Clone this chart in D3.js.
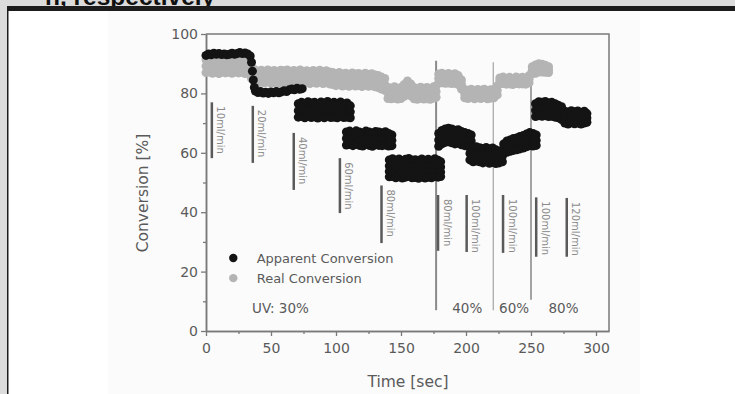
<!DOCTYPE html>
<html>
<head>
<meta charset="utf-8">
<script src="https://cdn.jsdelivr.net/npm/d3@7"></script>
<style>
  body { margin: 0; background: #dcdcdc; }
  svg { display: block; }
</style>
</head>
<body>
<div id="chart"></div>
<script>
// apparent conversion (black): [time sec, readings in % at that time...]
const apparent = [
  [0,92.8],[2,93.3],[4,93.0],[6,93.5],[8,93.2],[10,93.4],[12,93.1],[14,93.3],[16,93.0],[18,93.2],
  [20,93.5],[22,93.2],[24,93.4],[26,93.8],[28,93.4],[30,93.6],[32,93.3],[34,92.6],
  [35,90.5],[35.7,87.5],[36.4,84.5],[37.2,82],
  [38,80.8],[40,80.3],[42,80.6],[44,80.1],[46,80.4],[48,80.0],[50,80.5],[52,80.2],[54,80.6],[56,80.2],
  [58,80.5],[60,80.9],[62,80.6],[64,81.2],[66,81.5],[68,81.2],[70,81.7],[72,81.4],[74,81.6],
  [71,76.5,74.2,72],[73.5,77,74.5,72.3],[76,76.6,74.3,71.8],[78.5,77.2,74.7,72.2],[81,76.8,74.4,71.9],
  [83.5,77,74.6,72.1],[86,76.4,74.1,71.7],[88.5,77.1,74.6,72.2],[91,76.7,74.3,71.8],[93.5,77.3,74.8,72.3],
  [96,76.6,74.2,71.9],[98.5,77,74.5,72],[101,76.5,74.1,71.8],[103.5,77.1,74.6,72.2],[106,76.4,74.2,71.9],
  [108.5,76.8,74.3,72],[111,75.8,73.8,71.8],
  [108,67,64.8,62.6],[110.5,67.3,65,62.8],[113,66.8,64.6,62.4],[115.5,67.4,65.1,62.9],[118,67,64.7,62.5],
  [120.5,66.7,64.5,62.3],[123,67.3,65,62.8],[125.5,67,64.8,62.5],[128,66.6,64.4,62.2],[130.5,67.2,64.9,62.7],
  [133,67,64.8,62.5],[135.5,66.7,64.5,62.4],[138,67.1,64.9,62.6],[140.5,66.5,64.4,62.3],[143,66,64.2,62.4],
  [141,57.6,55.6,53.7,51.9],[143.5,58,56,54,52],[146,57.5,55.5,53.6,51.6],[148.5,57.9,55.9,53.9,51.9],
  [151,57.4,55.4,53.5,51.5],[153.5,57.8,55.8,53.8,51.8],[156,58.1,56.1,54.1,52.1],[158.5,57.5,55.5,53.6,51.6],
  [161,57.7,55.7,53.7,51.7],[163.5,57.3,55.3,53.4,51.4],[166,57.9,55.9,53.9,51.9],[168.5,57.5,55.5,53.5,51.5],
  [171,57.8,55.8,53.8,51.8],[173.5,57.4,55.4,53.5,51.6],[176,58,56,54,52],[178.5,57.5,55.6,53.7,51.8],
  [180.5,57,55.2,53.5,52],
  [179,66.5,64.3,62.2],[181.5,67.5,65.2,63],[184,68,65.8,63.5],[186.5,68.3,66,63.7],[189,68,65.7,63.4],
  [191.5,67.6,65.3,63],[194,67.8,65.5,63.2],[196.5,67.2,65,62.7],[199,66.8,64.6,62.4],[201.5,66.5,64.3,62.2],
  [204,66,64,62],
  [203,62,59.8,57.6],[205.5,61.5,59.3,57],[208,62,59.6,57.2],[210.5,61.7,59.3,57],[213,61.4,59,56.6],
  [215.5,61.8,59.4,57],[218,61.3,58.9,56.5],[220.5,61.6,59.2,56.8],[223,61,58.7,56.4],[225.5,60.6,58.5,56.6],
  [228,60.8,58.8,57],
  [229,63,61.5,60],[231.5,64,62,60.2],[234,64.3,62.3,60.5],[236.5,64.8,62.7,60.8],[239,65,63,61],
  [241.5,65.5,63.4,61.3],[244,65.8,63.7,61.6],[246.5,66.3,64.2,62],[249,66.8,64.6,62.4],[251.5,66.5,64.4,62.3],
  [254,66,64.2,62.5],
  [253.5,76.5,74.3,72.2],[256,77.2,74.8,72.5],[258.5,77,74.7,72.3],[261,77.3,74.9,72.5],[263.5,76.8,74.5,72.2],
  [266,77,74.6,72.3],[268.5,76.5,74.2,72],[271,76,73.8,71.8],[273.5,75.5,73.3,71.2],
  [276,74,72,70],[278.5,73.7,71.7,69.7],[281,74.2,72.1,70.1],[283.5,73.8,71.8,69.8],[286,74.1,72,70],
  [288.5,73.6,71.6,69.7],[291,74,72,70],[293,73.2,71.7,70.3]
];

// real conversion (gray)
const real = [
  [0,91.3,89.2,87],[2.5,91.6,89.4,87.2],[5,91.2,89,86.8],[7.5,91.5,89.3,87.1],[10,91.1,88.9,86.7],
  [12.5,91.6,89.4,87.2],[15,91.3,89.1,86.9],[17.5,91.5,89.3,87.1],[20,91.2,89,86.8],[22.5,91.6,89.4,87.2],
  [25,91.3,89.1,86.9],[27.5,91.5,89.3,87.1],[30,91.1,88.9,86.7],[32.5,90.8,88.7,86.6],
  [35,89,87,85],[37.5,88,86,84],
  [40,87.3,85.4,83.5],[42.5,87.8,85.8,83.8],[45,87.4,85.5,83.6],[47.5,87.9,85.9,83.9],[50,87.5,85.5,83.5],
  [52.5,87.7,85.7,83.7],[55,87.3,85.3,83.3],[57.5,87.8,85.8,83.8],[60,87.6,85.6,83.6],[62.5,87.9,85.9,83.9],
  [65,87.4,85.4,83.4],[67.5,87.7,85.7,83.7],[70,87.5,85.5,83.5],[72.5,87.9,85.9,83.9],[75,87.4,85.4,83.4],
  [77.5,87.6,85.6,83.6],[80,87.3,85.3,83.3],[82.5,87.7,85.7,83.7],[85,87.4,85.4,83.4],[87.5,87.8,85.8,83.8],
  [90,87.3,85.3,83.3],[92.5,87.6,85.6,83.6],[95,87.2,85.2,83.2],[97.5,87,85,83],[100,86.6,84.6,82.6],
  [102.5,87,85,83],[105,86.5,84.5,82.5],[107.5,86.8,84.8,82.8],[110,86.4,84.4,82.4],[112.5,86.9,84.9,82.9],
  [115,86.5,84.5,82.5],[117.5,86.7,84.7,82.7],[120,86.3,84.3,82.3],[122.5,86.8,84.8,82.8],[125,86.4,84.4,82.4],
  [127.5,86.6,84.6,82.6],[130,86.2,84.2,82.2],[132.5,86,84,82],[135,85.5,83.5,81.5],[137.5,85,83,81],
  [140,82,80.2,78.3],[142.5,81.8,80,78.2],[145,82.2,80.3,78.4],[147.5,81.7,79.9,78.1],[150,82,80.2,78.3],
  [152.5,83,81,79],[155,84.2,82,79.8],[157.5,83.2,81.2,79.2],[160,82,80.1,78.2],[162.5,81.6,79.8,78],
  [165,82.1,80.2,78.3],[167.5,81.7,79.9,78.1],[170,82,80.1,78.2],[172.5,81.6,79.8,78],[175,82.2,80.3,78.4],
  [177,82.5,80.6,78.7],
  [179,86.5,85,83.5],[181.5,86.8,85.2,83.6],[184,86.4,84.9,83.4],[186.5,86.7,85.1,83.5],[189,86.3,84.8,83.3],
  [191.5,86.6,85,83.4],[194,86,84.5,83],[196.5,84.5,83,81.5],
  [199,81.3,79.9,78.5],[201.5,81.1,79.7,78.3],[204,81.4,80,78.6],[206.5,81,79.6,78.2],[209,81.3,79.9,78.5],
  [211.5,81.1,79.7,78.3],[214,81.4,80,78.6],[216.5,81,79.6,78.2],[219,81.2,79.8,78.4],[221.5,81.3,79.9,78.5],
  [224,82.5,81,79.5],
  [226,85.2,84.2,83.2],[228.5,85.5,84.4,83.3],[231,85.1,84.1,83.1],[233.5,85.4,84.3,83.2],[236,85,84,83],
  [238.5,85.5,84.4,83.3],[241,85.2,84.2,83.2],[243.5,85.4,84.3,83.2],[246,85.1,84.1,83.1],[248.5,86,84.8,83.6],
  [251,89,87.8,86.6],[253.5,89.6,88.2,86.8],[256,90,88.6,87.2],[258.5,89.8,88.5,87.2],[261,89.5,88.3,87.1],
  [263.5,89,88,87]
];

// flow rate markers
const flowLabels = ["10ml/min","20ml/min","40ml/min","60ml/min","80ml/min","80ml/min","100ml/min","100ml/min","100ml/min","120ml/min"];
const flowTimes  = [4.5, 36, 67.5, 103, 135, 178.5, 200.5, 228.5, 254, 277.5];
const flowTop    = [77, 75.8, 66.7, 58.2, 49, 45.8, 45.8, 45.8, 45, 44.8];
const flowBottom = [58.2, 56.6, 47.5, 39.7, 29.6, 27, 26.6, 26.3, 25, 25];

// UV intensity changes
const uvTimes  = [177, 221, 250];
const uvTop    = [91, 90.5, 90];
const uvBottom = [7, 7, 10.5];
const uvLabels = ["UV: 30%", "40%", "60%", "80%"];
const uvLabelTimes = [35.4, 201, 237, 275];

const xTicks = [0, 50, 100, 150, 200, 250, 300];
const xMinor = [25, 75, 125, 175, 225, 275];
const yTicks = [0, 20, 40, 60, 80, 100];
const yMinor = [10, 30, 50, 70, 90];

const W = 735, H = 394;
const font = "DejaVu Sans";
const axisCol = "#7a7a7a";
const textCol = "#5a5a5a";

const svg = d3.select("#chart").append("svg")
  .attr("width", W).attr("height", H);

// page frame
svg.append("rect").attr("x", 0).attr("y", 0).attr("width", W).attr("height", H).attr("fill", "#dcdcdc");
svg.append("text")
  .attr("x", 45).attr("y", 5)
  .attr("font-family", "Liberation Sans").attr("font-weight", "bold").attr("font-size", 24.5)
  .attr("fill", "#111")
  .text("n, respectively");
svg.append("rect").attr("x", 7).attr("y", 6).attr("width", W - 7).attr("height", H).attr("fill", "#1c1c1c");
svg.append("rect").attr("x", 8.5).attr("y", 11).attr("width", W).attr("height", H).attr("fill", "#fff");
svg.append("rect").attr("x", 108).attr("y", 11).attr("width", 532).attr("height", H).attr("fill", "#fbfbfb");

const x = d3.scaleLinear().domain([0, 310]).range([206, 609]);
const y = d3.scaleLinear().domain([0, 100]).range([331, 34]);

// frame top and right
svg.append("path")
  .attr("d", `M${x(0)},${y(100)}H${x(310)}V${y(0)}`)
  .attr("fill", "none").attr("stroke", axisCol).attr("stroke-width", 1.5);

// axes
const xAxisG = svg.append("g").attr("transform", `translate(0,${y(0)})`)
  .call(d3.axisBottom(x).tickValues(xTicks).tickSize(5).tickPadding(7).tickSizeOuter(0));
const xMinorG = svg.append("g").attr("transform", `translate(0,${y(0)})`)
  .call(d3.axisBottom(x).tickValues(xMinor).tickSize(3).tickFormat("").tickSizeOuter(0));
const yAxisG = svg.append("g").attr("transform", `translate(${x(0)},0)`)
  .call(d3.axisLeft(y).tickValues(yTicks).tickSize(5).tickPadding(3).tickSizeOuter(0));
const yMinorG = svg.append("g").attr("transform", `translate(${x(0)},0)`)
  .call(d3.axisLeft(y).tickValues(yMinor).tickSize(3).tickFormat("").tickSizeOuter(0));

[xAxisG, xMinorG, yAxisG, yMinorG].forEach(g => {
  g.select(".domain").attr("stroke", axisCol).attr("stroke-width", 1.5);
  g.selectAll(".tick line").attr("stroke", axisCol).attr("stroke-width", 1.3);
  g.selectAll(".tick text").attr("fill", textCol).attr("font-family", font).attr("font-size", 14);
});

svg.append("text")
  .attr("transform", `translate(148,193) rotate(-90)`)
  .attr("text-anchor", "middle")
  .attr("font-family", font).attr("font-size", 15.5).attr("fill", textCol)
  .text("Conversion [%]");
svg.append("text")
  .attr("x", 408).attr("y", 387)
  .attr("text-anchor", "middle")
  .attr("font-family", font).attr("font-size", 15.5).attr("fill", textCol)
  .text("Time [sec]");

// UV switch lines
const uvStroke = ["#8a8a8a", "#b0b0b0", "#999"];
const uvWidth = [2, 1.4, 1.8];
uvTimes.forEach((t, i) => {
  svg.append("line")
    .attr("x1", x(t)).attr("x2", x(t))
    .attr("y1", y(uvTop[i])).attr("y2", y(uvBottom[i]))
    .attr("stroke", uvStroke[i]).attr("stroke-width", uvWidth[i]);
});

// every reading at a time becomes its own point
const points = rows => rows.flatMap(r => r.slice(1).map(v => [r[0], v]));

svg.append("g").selectAll("circle").data(points(real)).enter().append("circle")
  .attr("cx", d => x(d[0])).attr("cy", d => y(d[1]))
  .attr("r", 4.5).attr("fill", "#b4b4b4");
svg.append("g").selectAll("circle").data(points(apparent)).enter().append("circle")
  .attr("cx", d => x(d[0])).attr("cy", d => y(d[1]))
  .attr("r", 4.5).attr("fill", "#141414");

// flow rate bars and labels
flowTimes.forEach((t, i) => {
  svg.append("line")
    .attr("x1", x(t)).attr("x2", x(t))
    .attr("y1", y(flowTop[i])).attr("y2", y(flowBottom[i]))
    .attr("stroke", "#5a5a5a").attr("stroke-width", 2.5);
  svg.append("text")
    .attr("transform", `translate(${x(t) + 9},${y(flowTop[i]) + 4}) rotate(90)`)
    .attr("dy", "0.35em")
    .attr("font-family", font).attr("font-size", 10).attr("fill", "#8a8a8a")
    .text(flowLabels[i]);
});

// legend
const legend = [["Apparent Conversion", "#141414", 24.6], ["Real Conversion", "#b4b4b4", 17.8]];
legend.forEach(l => {
  svg.append("circle").attr("cx", x(21)).attr("cy", y(l[2])).attr("r", 4.2).attr("fill", l[1]);
  svg.append("text")
    .attr("x", x(39)).attr("y", y(l[2]) + 5)
    .attr("font-family", font).attr("font-size", 13).attr("fill", textCol)
    .text(l[0]);
});

// UV labels
uvLabels.forEach((s, i) => {
  svg.append("text")
    .attr("x", x(uvLabelTimes[i])).attr("y", y(6))
    .attr("text-anchor", i === 0 ? "start" : "middle")
    .attr("font-family", font).attr("font-size", 13.5).attr("fill", textCol)
    .text(s);
});
</script>
</body>
</html>
